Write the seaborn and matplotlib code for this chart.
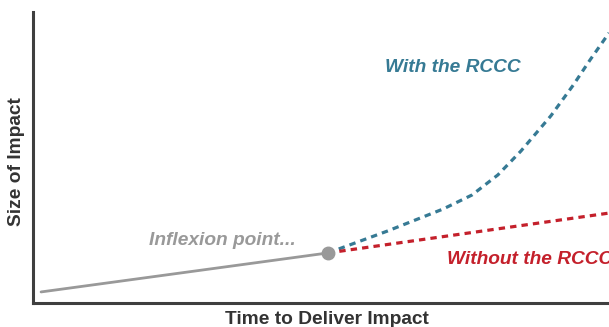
import matplotlib
matplotlib.use("Agg")
import matplotlib.pyplot as plt
import seaborn as sns
import pandas as pd

# Trajectory before the inflexion point
base_x = [0.14, 5.12]
base_y = [0.38, 1.72]

# Accelerated path with the RCCC
with_x = [5.12, 6.15, 7.12, 7.62, 8.07, 8.47, 8.99, 9.38, 9.67, 10.0]
with_y = [1.72, 2.47, 3.23, 3.71, 4.40, 5.22, 6.43, 7.49, 8.35, 9.28]

# Linear path without the RCCC
without_x = [5.12, 10.0]
without_y = [1.72, 3.09]

inflexion = (5.12, 1.72)

GREY = "#999999"
BLUE = "#367a94"
RED = "#c4202b"
AXIS = "#3f3f3f"
FS = 13.8

sns.set_style("white")
plt.rcParams["font.family"] = ["Liberation Sans", "DejaVu Sans"]

fig = plt.figure(figsize=(6.09, 3.27), dpi=100)
ax = fig.add_axes([33 / 609, 1 - 303 / 327, 1 - 33 / 609, (303 - 12) / 327])

base = pd.DataFrame({"x": base_x, "y": base_y})
with_df = pd.DataFrame({"x": with_x, "y": with_y})
without_df = pd.DataFrame({"x": without_x, "y": without_y})

sns.lineplot(data=base, x="x", y="y", ax=ax, color=GREY, linewidth=2.0,
             sort=False, estimator=None)
sns.lineplot(data=with_df, x="x", y="y", ax=ax, color=BLUE, linewidth=2.3,
             sort=False, estimator=None, linestyle=(0, (2.0, 1.6)))
sns.lineplot(data=without_df, x="x", y="y", ax=ax, color=RED, linewidth=2.3,
             sort=False, estimator=None, linestyle=(0, (2.0, 1.6)))
ax.plot([inflexion[0]], [inflexion[1]], "o", color=GREY, markersize=9, zorder=5)

ax.set_xlim(0, 10)
ax.set_ylim(0, 10)
ax.set_xticks([])
ax.set_yticks([])

for side in ("top", "right"):
    ax.spines[side].set_visible(False)
for side in ("left", "bottom"):
    ax.spines[side].set_color(AXIS)
    ax.spines[side].set_linewidth(2.2)

ax.set_xlabel("Time to Deliver Impact", fontsize=FS, fontweight="bold",
              color="#333333")
ax.set_ylabel("Size of Impact", fontsize=FS, fontweight="bold",
              color="#333333")
ax.xaxis.set_label_coords(0.510, -0.028)
ax.yaxis.set_label_coords(-0.014, 0.485)

ax.text(7.29, 8.08, "With the RCCC", color=BLUE, fontsize=FS,
        fontweight="bold", fontstyle="italic", ha="center", va="center")
ax.text(4.57, 2.16, "Inflexion point...", color=GREY, fontsize=FS,
        fontweight="bold", fontstyle="italic", ha="right", va="center")
ax.text(7.19, 1.48, "Without the RCCC", color=RED, fontsize=FS,
        fontweight="bold", fontstyle="italic", ha="left", va="center",
        clip_on=False)

fig.savefig("out.png", dpi=100)
